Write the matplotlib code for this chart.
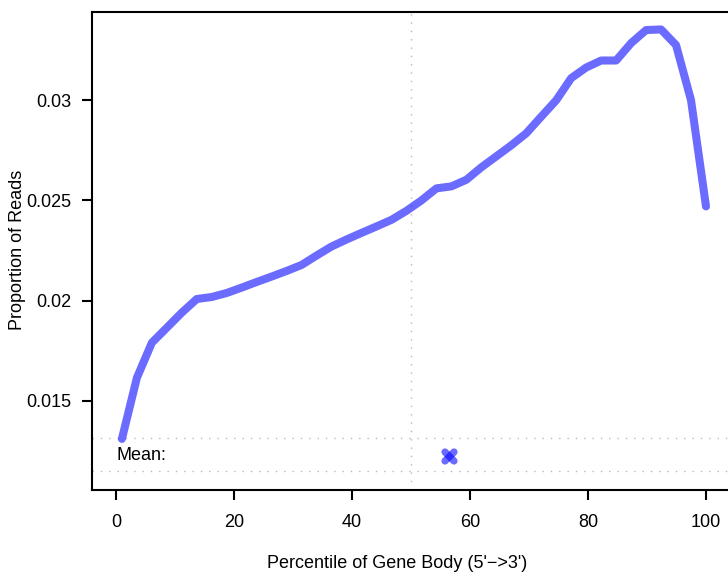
import matplotlib
matplotlib.use("Agg")
import matplotlib.pyplot as plt
from matplotlib.path import Path
from matplotlib.markers import MarkerStyle

plt.rcParams["font.family"] = ["Liberation Sans", "DejaVu Sans"]

# gene body percentile bins and read proportions
percentile = [1.0, 3.54, 6.08, 8.62, 11.15, 13.69, 16.23, 18.77, 21.31, 23.85,
              26.38, 28.92, 31.46, 34.0, 36.54, 39.08, 41.62, 44.15, 46.69, 49.23,
              51.77, 54.31, 56.85, 59.38, 61.92, 64.46, 67.0, 69.54, 72.08, 74.62,
              77.15, 79.69, 82.23, 84.77, 87.31, 89.85, 92.38, 94.92, 97.46, 100.0]
proportion = [0.01310, 0.01615, 0.01790, 0.01865, 0.01940, 0.02008, 0.02018, 0.02038,
              0.02065, 0.02093, 0.02120, 0.02148, 0.02178, 0.02225, 0.02270, 0.02305,
              0.02338, 0.02370, 0.02403, 0.02448, 0.02500, 0.02560, 0.02570, 0.02603,
              0.02665, 0.02720, 0.02775, 0.02835, 0.02918, 0.03000, 0.03110, 0.03163,
              0.03198, 0.03198, 0.03285, 0.03350, 0.03353, 0.03275, 0.03000, 0.02470]
mean_x = 56.4
mean_y = 0.01225
band = [0.0115, 0.01315]

xticks = [0, 20, 40, 60, 80, 100]
yticks = [0.015, 0.02, 0.025, 0.03]
yticklabels = ["0.015", "0.02", "0.025", "0.03"]

W, H = 728, 574
fig = plt.figure(figsize=(W / 100, H / 100), dpi=100)
ax = fig.add_axes([92 / W, 1 - 490 / H, (740 - 92) / W, (490 - 12) / H])

line_col = (0.0, 0.0, 1.0, 0.58)
grid_col = "#b8b8b8"

ax.plot(percentile, proportion, color=line_col, lw=5.8, solid_capstyle="round",
        solid_joinstyle="round", zorder=3)

for yb in band:
    ax.axhline(yb, color=grid_col, lw=1.0, ls=(0, (1, 5)), zorder=1)
ax.axvline(50, color=grid_col, lw=1.0, ls=(0, (1, 5)), zorder=1)

ax.text(0, mean_y, "Mean:", ha="left", va="center", fontsize=13)
for verts in ([(-1, -1), (1, 1)], [(-1, 1), (1, -1)]):
    m = MarkerStyle(Path(verts), capstyle="round")
    ax.plot([mean_x], [mean_y], marker=m, ms=6.5, mew=5.2, mec=line_col,
            mfc="none", ls="none", zorder=4)

ax.set_xlim(-4.07, (740 - 116) / 5.9)
ax.set_ylim(0.01055, 0.0344)
ax.set_xticks(xticks)
ax.set_yticks(yticks)
ax.set_yticklabels(yticklabels)
ax.tick_params(axis="both", direction="out", length=7.5, width=1.5, labelsize=13)
ax.tick_params(axis="y", pad=7)
ax.tick_params(axis="x", pad=10)
for s in ax.spines.values():
    s.set_linewidth(1.5)

fig.text(397 / W, 1 - 563 / H, "Percentile of Gene Body (5'\u2212>3')",
         ha="center", va="center", fontsize=13)
fig.text(18 / W, 1 - 250 / H, "Proportion of Reads", ha="center", va="center",
         rotation=90, fontsize=13)

fig.savefig("out.png", dpi=100)
